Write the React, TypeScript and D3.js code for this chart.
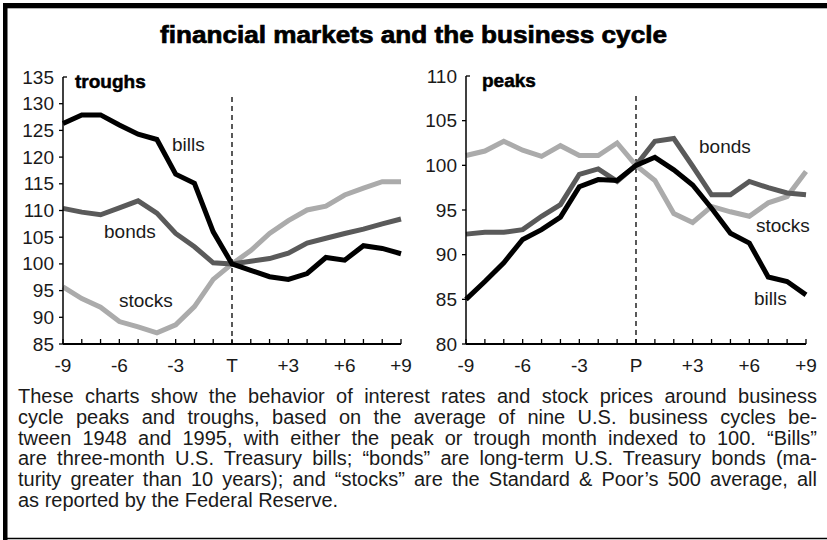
import React, { useEffect, useRef } from "react";
import * as d3 from "d3";

const months = [-9, -8, -7, -6, -5, -4, -3, -2, -1, 0, 1, 2, 3, 4, 5, 6, 7, 8, 9];
const tickMonths = [-9, -6, -3, 0, 3, 6, 9];
const troughTickLabels = ["-9", "-6", "-3", "T", "+3", "+6", "+9"];
const peakTickLabels = ["-9", "-6", "-3", "P", "+3", "+6", "+9"];
const troughYTicks = [85, 90, 95, 100, 105, 110, 115, 120, 125, 130, 135];
const peakYTicks = [80, 85, 90, 95, 100, 105, 110];

// Troughs panel
const troughBills = [126.3, 127.9, 127.9, 126.0, 124.3, 123.3, 116.8, 115.1, 106.0, 100, 98.8, 97.6, 97.1, 98.2, 101.2, 100.7, 103.4, 102.9, 101.9];
const troughBonds = [110.4, 109.7, 109.2, 110.5, 111.8, 109.5, 105.7, 103.2, 100.2, 100, 100.5, 101.0, 102.0, 103.9, 104.8, 105.7, 106.5, 107.5, 108.4];
const troughStocks = [95.7, 93.5, 91.9, 89.2, 88.2, 87.1, 88.6, 92.0, 97.1, 100, 102.5, 105.7, 108.1, 110.1, 110.8, 112.9, 114.2, 115.4, 115.4];

// Peaks panel
const peakBills = [85.0, 87.0, 89.1, 91.7, 92.8, 94.2, 97.6, 98.4, 98.3, 100, 100.9, 99.5, 97.8, 95.2, 92.4, 91.3, 87.5, 87.0, 85.5];
const peakBonds = [92.3, 92.5, 92.5, 92.8, 94.3, 95.6, 99.0, 99.6, 98.2, 100, 102.7, 103.0, 99.9, 96.7, 96.7, 98.2, 97.5, 96.9, 96.7];
const peakStocks = [101.1, 101.6, 102.7, 101.7, 101.0, 102.2, 101.1, 101.1, 102.5, 100, 98.3, 94.6, 93.6, 95.4, 94.8, 94.3, 95.8, 96.5, 99.3];

const seriesNames = ["stocks", "bonds", "bills"];

const captionLines = [
  "These charts show the behavior of interest rates and stock prices around business",
  "cycle peaks and troughs, based on the average of nine U.S. business cycles be-",
  "tween 1948 and 1995, with either the peak or trough month indexed to 100. \u201CBills\u201D",
  "are three-month U.S. Treasury bills; \u201Cbonds\u201D are long-term U.S. Treasury bonds (ma-",
  "turity greater than 10 years); and \u201Cstocks\u201D are the Standard & Poor\u2019s 500 average, all",
  "as reported by the Federal Reserve.",
];

const COLORS: Record<string, string> = { bills: "#000000", bonds: "#5a5a5a", stocks: "#ababab" };
const FONT = "'Liberation Sans', Arial, Helvetica, sans-serif";
const TEXT_FILL = "#1a1a1a";

type PanelProps = {
  x0: number; x1: number; yTop: number; yBot: number;
  domain: [number, number]; yTicks: number[]; xLabels: string[];
  title: string; titleX: number; titleY: number;
  data: Record<string, number[]>;
  labels: Record<string, [number, number]>;
};

function Panel(p: PanelProps) {
  const x = d3.scaleLinear().domain([-9, 9]).range([p.x0, p.x1]);
  const y = d3.scaleLinear().domain(p.domain).range([p.yBot, p.yTop]);
  const line = d3.line<number>().x((_, i) => x(months[i])).y((d) => y(d));
  const topTick = p.yTicks[p.yTicks.length - 1];
  return (
    <g>
      <line x1={x(0)} x2={x(0)} y1={p.yTop + 20} y2={p.yBot} stroke="#000" strokeWidth={1.3} strokeDasharray="5,4" />
      {seriesNames.map((s) => (
        <path key={s} d={line(p.data[s]) || ""} fill="none" stroke={COLORS[s]} strokeWidth={5} strokeLinejoin="miter" strokeMiterlimit={3} />
      ))}
      <line x1={p.x0} x2={p.x0} y1={y(topTick)} y2={p.yBot} stroke="#000" strokeWidth={1.5} />
      <line x1={p.x0} x2={p.x1} y1={p.yBot} y2={p.yBot} stroke="#000" strokeWidth={1.8} />
      {p.yTicks.map((t) => (
        <g key={t}>
          {t === topTick ? (
            <line x1={p.x0} x2={p.x0 + 4} y1={y(t)} y2={y(t)} stroke="#000" strokeWidth={1.3} />
          ) : (
            <line x1={p.x0 - 4} x2={p.x0} y1={y(t)} y2={y(t)} stroke="#000" strokeWidth={1.3} />
          )}
          <text x={p.x0 - 9} y={y(t) + 6.5} textAnchor="end" fontSize={19} fontFamily={FONT} fill={TEXT_FILL}>{t}</text>
        </g>
      ))}
      {months.map((m) => (
        <line key={m} x1={x(m)} x2={x(m)} y1={p.yBot} y2={p.yBot - 5} stroke="#000" strokeWidth={1.3} />
      ))}
      {tickMonths.map((m, i) => (
        <text key={m} x={x(m)} y={p.yBot + 28} textAnchor="middle" fontSize={19} fontFamily={FONT} fill={TEXT_FILL}>{p.xLabels[i]}</text>
      ))}
      <text x={p.titleX} y={p.titleY} fontSize={19} fontWeight="bold" fontFamily={FONT} fill="#000" stroke="#000" strokeWidth={0.5}>{p.title}</text>
      {seriesNames.map((s) => (
        <text key={s} x={p.labels[s][0]} y={p.labels[s][1]} fontSize={19} fontFamily={FONT} fill={TEXT_FILL}>{s}</text>
      ))}
    </g>
  );
}

export default function App() {
  const capRef = useRef<SVGGElement>(null);
  const capLeft = 18;
  const capRight = 817;
  useEffect(() => {
    if (!capRef.current) return;
    const sel = d3.select(capRef.current).selectAll<SVGTextElement, string>("text.just");
    sel.each(function () {
      const el = this as SVGTextElement;
      el.style.wordSpacing = "0px";
      const w = el.getComputedTextLength();
      const txt = el.textContent || "";
      const spaces = (txt.match(/ /g) || []).length;
      if (spaces > 0) {
        const extra = (capRight - capLeft - w) / spaces;
        el.style.wordSpacing = extra + "px";
      }
    });
  }, []);

  return (
    <svg width={827} height={540} style={{ position: "absolute", left: 0, top: 0, background: "#fff" }}>
      <rect x={0} y={0} width={827} height={540} fill="#fff" />
      <rect x={3} y={3} width={830} height={5.3} fill="#000" />
      <rect x={3} y={3} width={4.5} height={540} fill="#000" />
      <line x1={3} x2={827} y1={538.5} y2={538.5} stroke="#000" strokeWidth={1.5} />
      <text x={413.5} y={43} textAnchor="middle" fontSize={24} fontWeight="bold" fontFamily={FONT} fill="#000" stroke="#000" strokeWidth={0.7} textLength={507} lengthAdjust="spacingAndGlyphs">financial markets and the business cycle</text>
      <Panel
        x0={63} x1={401} yTop={77} yBot={344} domain={[85, 135]} yTicks={troughYTicks} xLabels={troughTickLabels}
        title="troughs" titleX={75} titleY={88}
        data={{ bills: troughBills, bonds: troughBonds, stocks: troughStocks }}
        labels={{ bills: [172, 151], bonds: [104, 238], stocks: [119, 307] }}
      />
      <Panel
        x0={466} x1={806} yTop={76} yBot={344} domain={[80, 110]} yTicks={peakYTicks} xLabels={peakTickLabels}
        title="peaks" titleX={482} titleY={87}
        data={{ bills: peakBills, bonds: peakBonds, stocks: peakStocks }}
        labels={{ bills: [754, 305], bonds: [699, 153], stocks: [756, 232] }}
      />
      <g ref={capRef}>
        {captionLines.map((l, i) => (
          <text key={i} className={i < captionLines.length - 1 ? "just" : ""} x={capLeft} y={403 + i * 20.8} fontSize={20} fontFamily={FONT} fill={TEXT_FILL}>{l}</text>
        ))}
      </g>
    </svg>
  );
}
